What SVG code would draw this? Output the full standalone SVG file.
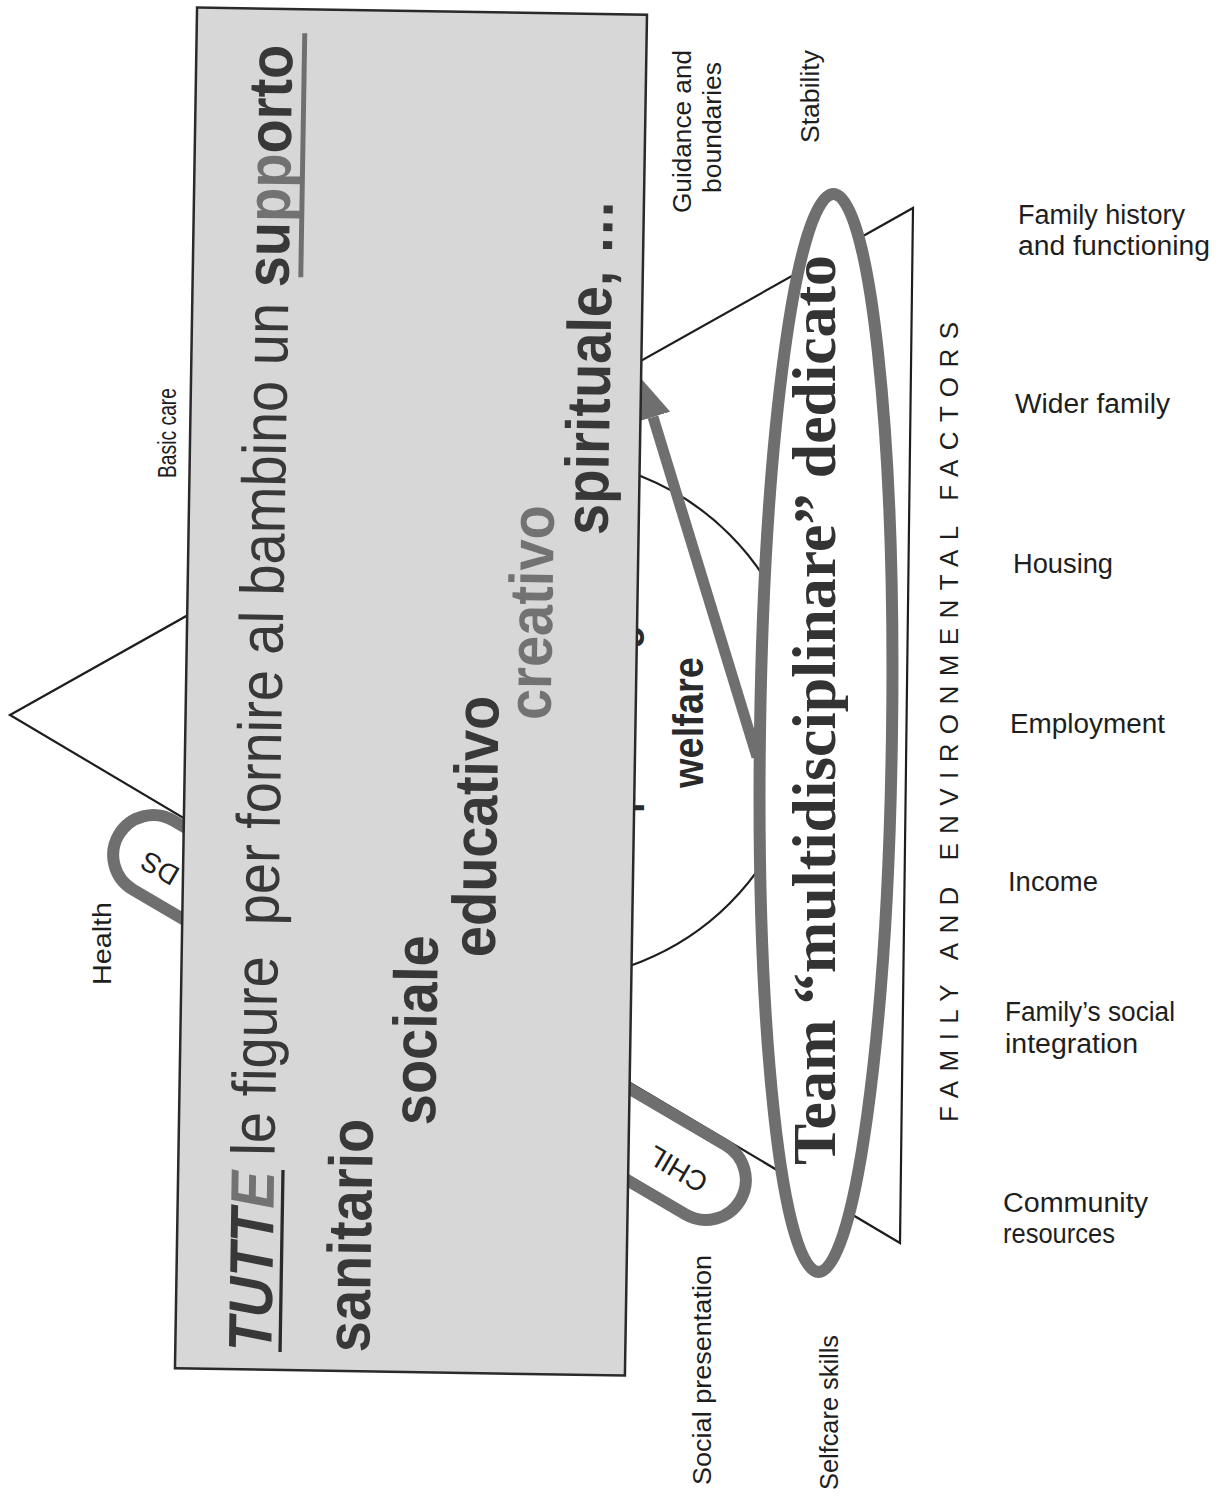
<svg xmlns="http://www.w3.org/2000/svg" width="1218" height="1501" viewBox="0 0 1218 1501">
<defs>
<style>
.edge{fill:none;stroke:#1e1e1e;stroke-width:2.2}
.lab{font-family:"Liberation Sans",Arial,sans-serif;font-size:26px;fill:#1e1e1e}
.hl{font-size:27px}
.big{font-family:"Liberation Sans",Arial,sans-serif;font-size:56px;fill:#383838}
.b{font-weight:bold}
.bi{font-weight:bold;font-style:italic}
.g{fill:#727272}
.mid{font-family:"Liberation Sans",Arial,sans-serif;font-size:38px;font-weight:bold;fill:#2a2a2a}
.team{font-family:"Liberation Serif","Times New Roman",serif;font-size:61px;font-weight:bold;fill:#333}
.pilltxt{font-family:"Liberation Sans",Arial,sans-serif;font-size:28px;fill:#1e1e1e}
</style>
<marker id="head" markerUnits="userSpaceOnUse" markerWidth="40" markerHeight="36" viewBox="0 0 40 36" refX="0" refY="18" orient="auto">
<path d="M0,0 L40,18 L0,36 Z" fill="#6f6f6f"/>
</marker>
</defs>
<rect width="1218" height="1501" fill="#ffffff"/>

<g id="triangle">
<polygon class="edge" points="10,715 913,208 900,1243"/>
</g>
<g id="circle">
<circle class="edge" cx="545" cy="719" r="261"/>
<text class="mid" transform="translate(635,813) scale(1.1,1) rotate(-90)">promoting</text>
<text class="mid" transform="translate(703,788) scale(1.1,1) rotate(-90)">welfare</text>
</g>

<g id="child-needs">
<rect x="-360.5" y="-40" width="721" height="80" rx="40" transform="translate(429.5,1017.5) rotate(30.45)" fill="#fff" stroke="#6f6f6f" stroke-width="12"/>
<text class="pilltxt" transform="translate(710,1177) rotate(210.45)">CHIL</text>
<text class="pilltxt" text-anchor="end" transform="translate(148,850) rotate(210.45)">DS</text>
</g>

<g id="connectors">
<line x1="757" y1="757" x2="653" y2="417" stroke="#6f6f6f" stroke-width="11" marker-end="url(#head)"/>
</g>

<g id="team">
<ellipse cx="826" cy="733" rx="66" ry="539" transform="rotate(0.8 826 733)" fill="#fff" stroke="#6f6f6f" stroke-width="12"/>
<text class="team" transform="translate(835,1165) rotate(-90)" textLength="910" lengthAdjust="spacingAndGlyphs">Team “multidisciplinare” dedicato</text>
</g>

<g id="box" transform="rotate(0.93 410 690)">
<rect x="186" y="11" width="450" height="1361" fill="#d7d7d7" stroke="#2a2a2a" stroke-width="2.5"/>
<g transform="translate(282,1354) scale(1.1,1) rotate(-90)">
<text class="big" x="0" y="0" xml:space="preserve"><tspan class="bi">TUTT</tspan><tspan class="bi g">E</tspan> le figure  per fornire al bambino un <tspan class="b">su</tspan><tspan class="b g">pp</tspan><tspan class="b">orto</tspan></text>
<line x1="0" y1="8" x2="182" y2="8" stroke="#2a2a2a" stroke-width="3"/>
<line x1="1075" y1="11" x2="1319" y2="11" stroke="#6f6f6f" stroke-width="4.5"/>
</g>
<text class="big b" transform="translate(380,1353) scale(1.1,1) rotate(-90)">sanitario</text>
<text class="big b" transform="translate(442,1125) scale(1.1,1) rotate(-90)">sociale</text>
<text class="big b" transform="translate(499,956) scale(1.1,1) rotate(-90)">educativo</text>
<text class="big b g" transform="translate(551,718) scale(1.1,1) rotate(-90)">creativo</text>
<text class="big b" transform="translate(605,532) scale(1.1,1) rotate(-90)">spirituale, …</text>
</g>

<g id="labels-parenting">
<text class="lab" transform="translate(176,478) rotate(-90)" textLength="90" lengthAdjust="spacingAndGlyphs">Basic care</text>
<text class="lab" transform="translate(691,213) rotate(-90)" textLength="163" lengthAdjust="spacingAndGlyphs">Guidance and</text>
<text class="lab" transform="translate(721,193) rotate(-90)" textLength="131" lengthAdjust="spacingAndGlyphs">boundaries</text>
<text class="lab" transform="translate(819,143) rotate(-90)" textLength="93" lengthAdjust="spacingAndGlyphs">Stability</text>
</g>
<g id="labels-child">
<text class="lab" transform="translate(111,985) rotate(-90)" textLength="83" lengthAdjust="spacingAndGlyphs">Health</text>
<text class="lab" transform="translate(711,1485) rotate(-90)" textLength="230" lengthAdjust="spacingAndGlyphs">Social presentation</text>
<text class="lab" transform="translate(838,1490) rotate(-90)" textLength="155" lengthAdjust="spacingAndGlyphs">Selfcare skills</text>
</g>
<g id="labels-family">
<text class="lab" transform="translate(958,1122) rotate(-90)" font-size="33" textLength="800" lengthAdjust="spacing">FAMILY AND ENVIRONMENTAL FACTORS</text>
<text class="lab hl" x="1018" y="224" textLength="167" lengthAdjust="spacingAndGlyphs">Family history</text>
<text class="lab hl" x="1018" y="255" textLength="192" lengthAdjust="spacingAndGlyphs">and functioning</text>
<text class="lab hl" x="1015" y="413" textLength="155" lengthAdjust="spacingAndGlyphs">Wider family</text>
<text class="lab hl" x="1013" y="573" textLength="100" lengthAdjust="spacingAndGlyphs">Housing</text>
<text class="lab hl" x="1010" y="733" textLength="155" lengthAdjust="spacingAndGlyphs">Employment</text>
<text class="lab hl" x="1008" y="891" textLength="90" lengthAdjust="spacingAndGlyphs">Income</text>
<text class="lab hl" x="1005" y="1021" textLength="170" lengthAdjust="spacingAndGlyphs">Family’s social</text>
<text class="lab hl" x="1005" y="1053" textLength="133" lengthAdjust="spacingAndGlyphs">integration</text>
<text class="lab hl" x="1003" y="1212" textLength="145" lengthAdjust="spacingAndGlyphs">Community</text>
<text class="lab hl" x="1003" y="1243" textLength="112" lengthAdjust="spacingAndGlyphs">resources</text>
</g>
</svg>
